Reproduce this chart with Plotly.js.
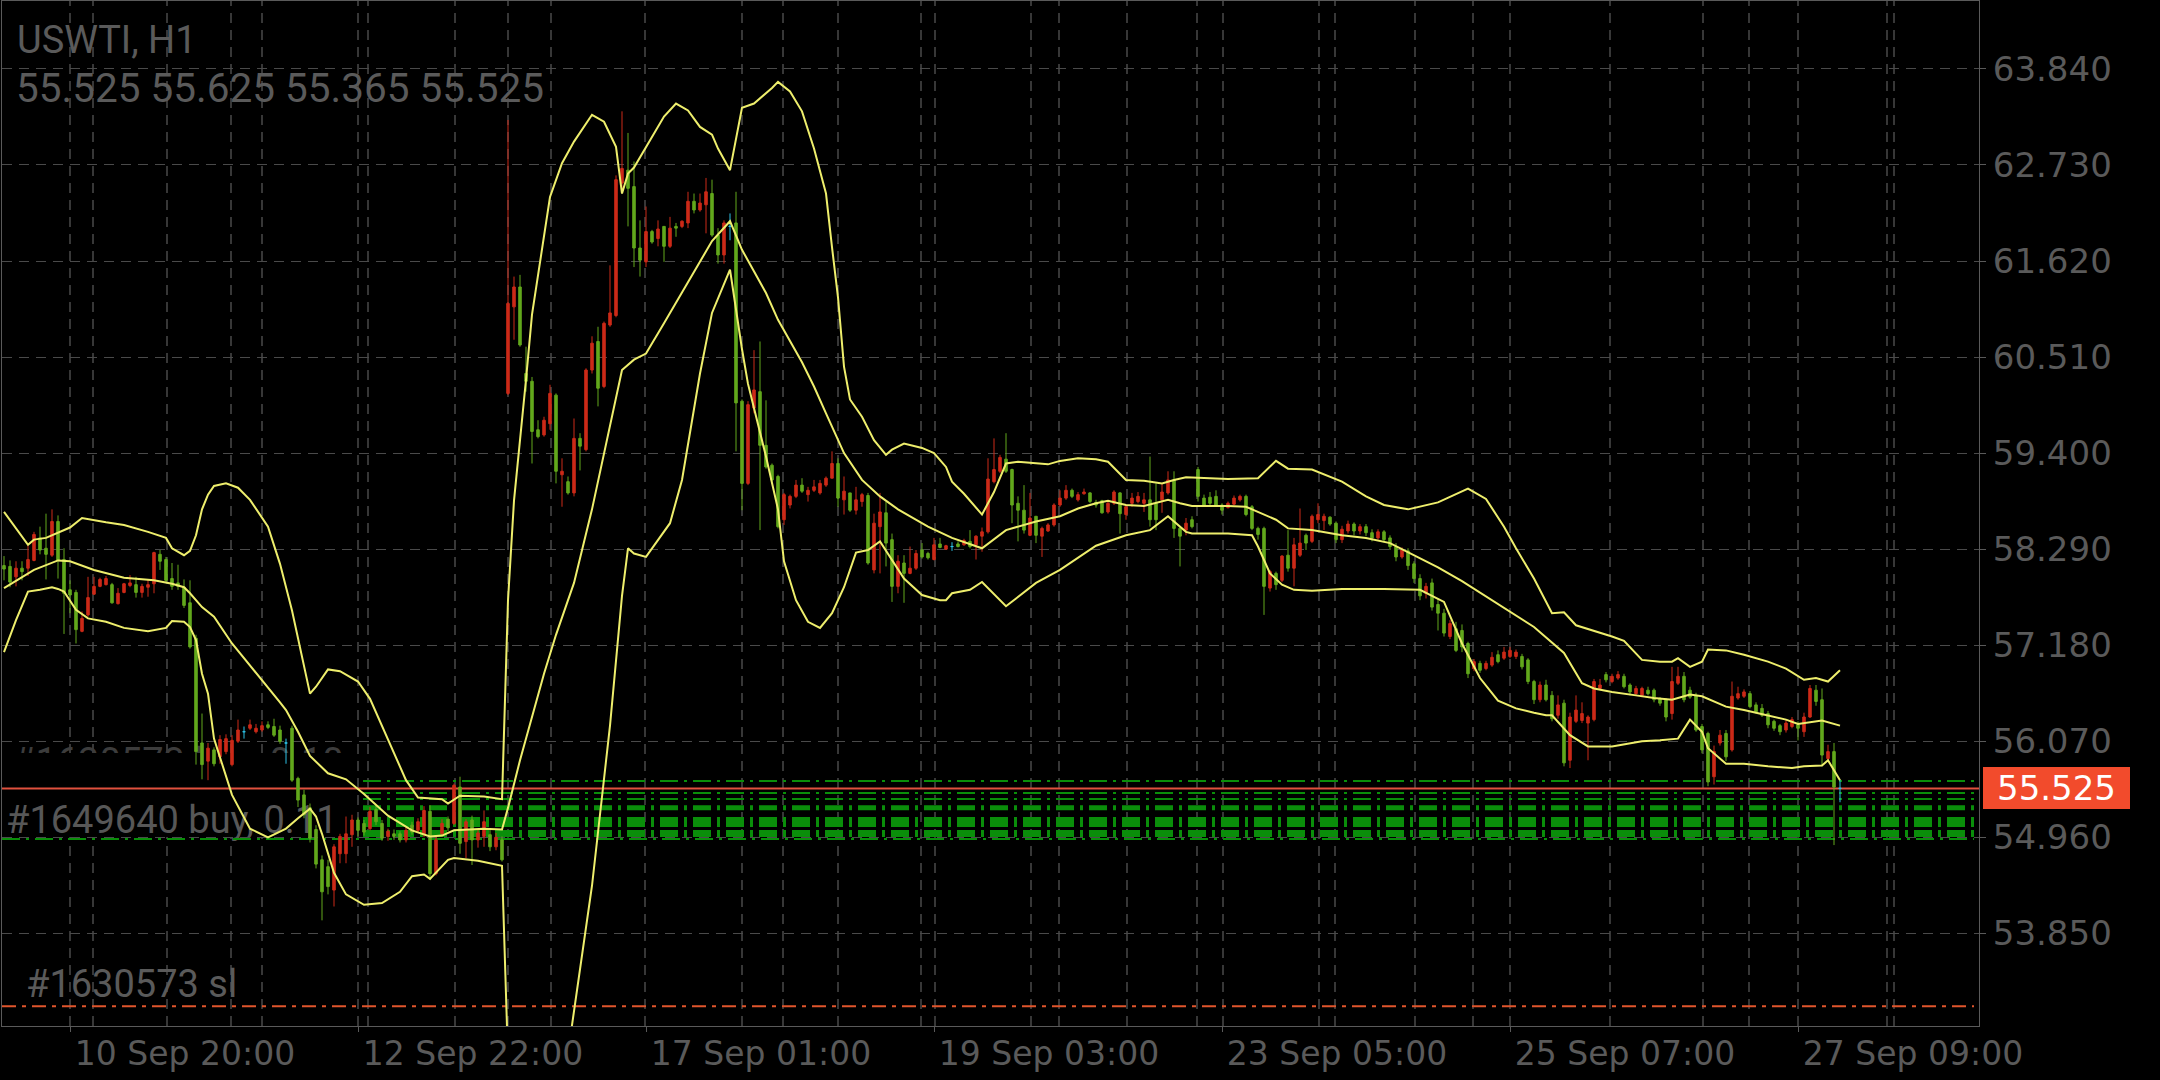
<!DOCTYPE html>
<html><head><meta charset="utf-8">
<script src="https://cdn.plot.ly/plotly-3.0.1.min.js"></script>
<style>html,body{margin:0;padding:0;background:#000;}#chart{width:2160px;height:1080px;}</style>
</head><body><div id="chart"></div>
<script>
// ---------- DATA ----------
const symbol = "USWTI, H1";
const xTickBars = [11, 59, 107, 155, 203, 251, 299];
const xTickText = ["10 Sep 20:00","12 Sep 22:00","17 Sep 01:00","19 Sep 03:00","23 Sep 05:00","25 Sep 07:00","27 Sep 09:00"];
const yTicks = [63.84, 62.73, 61.62, 60.51, 59.40, 58.29, 57.18, 56.07, 54.96, 53.85];

const open = [
58.10,58.09,57.97,58.07,58.07,58.16,58.42,58.30,58.22,58.61,
58.17,57.82,57.79,57.34,57.53,57.77,57.86,57.88,57.88,57.66,
57.79,57.87,57.88,57.79,57.85,57.89,58.23,58.17,57.95,57.90,
57.85,57.67,57.26,56.05,55.84,55.97,55.89,55.95,55.80,56.07,
56.18,56.22,56.18,56.20,56.26,56.24,56.20,56.05,56.22,55.64,
55.45,55.30,55.05,54.70,54.62,54.35,54.77,54.77,54.99,55.16,
55.12,55.06,55.28,55.12,54.97,55.00,55.00,54.93,55.10,55.04,
54.99,55.26,54.54,55.00,55.17,55.12,55.54,54.91,55.16,54.93,
54.97,54.99,54.85,54.93,60.09,61.09,61.32,60.32,60.23,59.67,
59.61,59.74,60.07,59.15,59.07,58.94,59.57,59.44,60.36,60.69,
60.17,60.88,60.99,62.52,62.67,62.48,61.77,61.61,61.96,61.88,
62.02,61.79,62.02,62.02,62.06,62.31,62.21,62.27,62.40,61.92,
61.69,62.02,62.06,60.00,59.05,59.92,60.11,59.49,59.26,59.13,
58.63,58.80,58.90,59.03,58.92,58.97,58.94,59.03,59.11,59.28,
58.86,58.94,58.74,58.84,58.91,58.05,58.55,58.71,58.40,57.86,
58.13,58.01,58.07,58.28,58.24,58.17,58.35,58.29,58.32,58.35,
58.34,58.38,58.34,58.44,58.49,59.07,59.19,59.33,59.21,58.82,
58.74,58.45,58.67,58.44,58.50,58.57,58.80,58.88,58.97,58.86,
58.93,58.94,58.83,58.85,58.72,58.82,58.94,58.69,58.82,58.84,
58.82,58.86,58.82,58.86,58.94,59.09,58.53,58.51,58.63,59.21,
58.88,58.89,58.90,58.80,58.77,58.81,58.86,58.90,58.78,58.53,
58.53,57.84,58.01,57.93,58.22,58.07,58.22,58.45,58.38,58.63,
58.62,58.66,58.59,58.40,58.50,58.58,58.50,58.55,58.48,58.42,
58.49,58.42,58.32,58.20,58.27,58.12,57.95,57.78,57.90,57.65,
57.55,57.28,57.37,57.35,57.20,56.91,56.97,56.91,56.95,57.07,
57.03,57.05,57.05,57.05,57.01,56.76,56.55,56.72,56.60,56.37,
56.51,55.85,56.30,56.31,56.28,56.32,56.68,56.84,56.76,56.80,
56.82,56.72,56.62,56.60,56.66,56.66,56.56,56.55,56.39,56.74,
56.82,56.66,56.60,56.24,56.16,55.66,56.05,56.16,55.97,56.57,
56.59,56.62,56.49,56.45,56.39,56.30,56.25,56.20,56.24,56.26,
56.18,56.35,56.66,56.55,55.87,55.95,55.525];
const high = [
58.21,58.16,58.15,58.15,58.33,58.49,58.55,58.70,58.75,58.68,
58.30,57.93,57.82,57.57,57.97,57.97,57.96,57.98,57.90,57.84,
57.90,57.99,57.97,57.89,57.94,58.26,58.28,58.20,58.13,58.11,
57.94,57.93,57.30,56.39,56.05,56.00,56.14,56.15,56.14,56.32,
56.24,56.32,56.27,56.30,56.30,56.33,56.25,56.10,56.25,55.66,
55.51,55.35,55.10,54.75,54.70,54.88,55.00,55.20,55.22,55.19,
55.16,55.31,55.33,55.16,55.06,55.05,55.03,55.08,55.14,55.18,
55.32,55.33,54.97,55.17,55.20,55.58,55.66,55.17,55.21,55.05,
55.27,55.05,55.01,54.97,63.25,61.44,61.46,60.63,60.28,59.78,
59.82,60.19,60.09,59.34,59.13,59.80,59.63,60.38,60.75,60.86,
60.92,61.57,62.61,63.35,63.10,62.77,62.09,62.25,61.98,62.09,
62.02,62.13,62.06,62.09,62.42,62.40,62.40,62.58,62.56,62.00,
62.09,62.17,62.42,60.02,60.00,60.59,60.69,60.01,59.28,59.15,
58.94,58.92,59.09,59.11,59.01,59.09,59.09,59.13,59.42,59.34,
59.13,58.94,59.01,58.94,58.94,58.70,58.94,58.84,58.47,58.22,
58.22,58.32,58.28,58.36,58.26,58.42,58.42,58.34,58.37,58.38,
58.41,58.51,58.45,58.54,59.34,59.57,59.38,59.63,59.22,58.90,
59.03,58.94,58.67,58.55,58.59,58.82,58.97,59.03,58.99,58.95,
58.99,58.95,58.86,58.86,58.84,58.97,58.95,58.80,58.94,58.95,
58.94,59.36,59.05,59.05,59.19,59.19,58.55,58.65,58.67,59.24,
58.92,58.95,58.97,58.82,58.84,58.91,58.92,58.92,58.80,58.55,
58.55,58.05,58.03,58.22,58.51,58.42,58.76,58.47,58.69,58.82,
58.70,58.67,58.61,58.56,58.62,58.60,58.58,58.58,58.52,58.52,
58.51,58.45,58.36,58.31,58.30,58.15,58.00,57.90,57.95,57.72,
57.60,57.47,57.45,57.42,57.22,57.02,57.00,57.00,57.10,57.12,
57.16,57.16,57.13,57.08,57.03,56.78,56.76,56.78,56.65,56.60,
56.55,56.40,56.60,56.52,56.37,56.79,56.79,56.87,56.85,56.88,
56.85,56.74,56.71,56.70,56.70,56.68,56.58,56.57,56.93,56.93,
56.87,56.70,56.63,56.27,56.18,56.02,56.20,56.20,56.76,56.70,
56.67,56.65,56.52,56.50,56.42,56.32,56.27,56.32,56.35,56.30,
56.40,56.72,56.72,56.68,56.03,56.05,55.625];
const low = [
57.93,57.85,57.86,57.93,57.98,58.15,58.23,57.94,58.20,57.95,
57.31,57.55,57.20,57.33,57.51,57.76,57.85,57.87,57.66,57.65,
57.78,57.85,57.73,57.73,57.74,57.78,58.05,57.90,57.82,57.82,
57.61,57.14,55.80,55.63,55.62,55.78,55.81,55.92,55.78,56.05,
56.10,56.20,56.16,56.18,56.21,56.12,56.04,55.81,55.60,55.31,
55.18,54.90,54.60,54.00,54.30,54.16,54.66,54.66,54.85,54.97,
54.98,55.04,55.10,54.92,54.92,54.93,54.90,54.90,54.99,55.02,
54.96,54.47,54.52,54.97,55.03,55.10,54.77,54.72,54.64,54.84,
54.85,54.80,54.81,54.68,60.07,60.71,60.63,60.11,59.28,59.57,
59.59,59.67,59.05,58.78,58.92,58.90,59.20,59.42,60.32,59.94,
60.15,60.86,60.97,62.44,62.02,61.55,61.44,61.55,61.82,61.79,
61.61,61.77,61.90,62.00,62.00,62.17,62.19,61.94,61.90,61.59,
61.59,61.86,59.42,58.74,59.03,59.86,58.51,59.22,59.07,58.53,
58.57,58.76,58.88,58.94,58.84,58.95,58.92,59.01,59.11,58.78,
58.69,58.72,58.69,58.78,58.11,58.01,58.01,58.09,57.68,57.78,
57.67,58.00,58.05,58.18,58.17,58.16,58.30,58.28,58.27,58.31,
58.33,58.30,58.17,58.26,58.47,59.05,59.17,59.17,58.59,58.38,
58.47,58.44,58.36,58.20,58.49,58.55,58.78,58.86,58.88,58.84,
58.92,58.82,58.77,58.70,58.70,58.80,58.47,58.63,58.78,58.82,
58.72,58.55,58.51,58.71,58.92,58.42,58.09,58.45,58.53,58.84,
58.78,58.80,58.79,58.69,58.76,58.80,58.84,58.67,58.51,58.40,
57.53,57.80,57.82,57.91,58.03,57.86,58.20,58.28,58.36,58.59,
58.51,58.56,58.36,58.36,58.47,58.45,58.46,58.44,58.38,58.40,
58.37,58.28,58.15,58.18,58.05,57.90,57.70,57.72,57.58,57.35,
57.28,57.25,57.10,57.10,56.80,56.88,56.86,56.89,56.93,56.97,
57.01,57.03,57.02,56.90,56.73,56.50,56.52,56.53,56.30,56.33,
55.78,55.76,56.28,56.28,55.85,56.30,56.66,56.75,56.74,56.78,
56.68,56.60,56.60,56.58,56.60,56.52,56.48,56.30,56.32,56.72,
56.52,56.56,56.18,55.93,55.55,55.57,56.02,55.84,55.95,56.55,
56.57,56.45,56.39,56.35,56.22,56.19,56.14,56.17,56.22,56.08,
56.12,56.34,56.48,55.78,55.84,54.87,55.365];
const close = [
58.06,57.91,58.07,58.03,58.17,58.46,58.28,58.23,58.61,58.16,
57.78,57.76,57.36,57.49,57.73,57.86,57.94,57.95,57.67,57.78,
57.89,57.90,57.79,57.86,57.88,58.25,58.15,57.93,57.86,57.86,
57.64,57.16,55.95,55.80,55.99,55.81,56.09,56.10,56.08,56.20,
56.18,56.26,56.22,56.25,56.23,56.14,56.07,56.05,55.62,55.39,
55.22,54.95,54.65,54.33,54.39,54.85,54.97,55.00,55.16,55.04,
55.02,55.26,55.14,54.95,55.03,54.97,54.93,55.04,55.02,55.14,
55.27,54.54,54.93,55.12,55.07,55.56,54.89,55.14,54.93,55.01,
55.14,54.85,54.96,54.70,61.13,61.32,60.65,60.23,59.65,59.59,
59.78,60.09,59.19,59.19,58.94,59.57,59.48,60.36,60.67,60.15,
60.90,61.02,62.56,62.69,62.46,61.77,61.63,61.96,61.84,61.99,
61.79,62.00,62.00,62.08,62.31,62.21,62.29,62.42,61.92,61.69,
62.06,62.02,59.98,59.05,59.96,60.13,59.49,59.24,59.09,58.55,
58.92,58.90,59.03,58.96,58.97,59.01,59.05,59.11,59.28,58.88,
58.96,58.74,58.86,58.92,58.13,58.59,58.72,58.36,57.86,58.15,
58.01,58.07,58.24,58.20,58.19,58.34,58.31,58.33,58.32,58.32,
58.39,58.32,58.44,58.49,59.10,59.21,59.35,59.19,58.80,58.74,
58.51,58.65,58.45,58.53,58.57,58.80,58.88,58.97,58.90,58.92,
58.95,58.84,58.80,58.71,58.82,58.95,58.70,58.78,58.88,58.90,
58.86,58.63,58.63,58.95,59.09,58.53,58.44,58.59,58.55,58.90,
58.80,58.82,58.80,58.74,58.82,58.88,58.90,58.69,58.53,58.46,
57.86,58.03,57.88,58.21,58.07,58.34,58.36,58.36,58.67,58.69,
58.67,58.58,58.40,58.52,58.58,58.50,58.55,58.48,58.42,58.49,
58.40,58.32,58.20,58.28,58.10,57.95,57.75,57.86,57.62,57.55,
57.32,57.43,57.12,57.16,56.85,56.99,56.89,56.97,57.04,56.99,
57.10,57.12,57.10,56.93,56.76,56.55,56.72,56.55,56.33,56.49,
55.82,56.35,56.43,56.39,56.35,56.76,56.72,56.78,56.82,56.84,
56.70,56.64,56.68,56.68,56.62,56.55,56.51,56.35,56.76,56.82,
56.55,56.58,56.20,55.97,55.60,55.95,56.14,55.89,56.59,56.62,
56.64,56.47,56.41,56.37,56.26,56.22,56.18,56.28,56.32,56.22,
56.35,56.68,56.53,55.91,55.95,55.54,55.525];

// Bollinger bands, read at selected bars
const upperX = [0,4,5,7,11,13,17,20,24,27,28,30,31,32,33,34,35,37,39,41,44,46,48,50,51,52,54,56,59,61,64,67,69,73,74,76,80,83,84,85,87,88,91,93,95,98,100,102,103,104,105,107,110,112,114,116,118,119,121,123,125,128,129,131,133,135,137,138,139,140,141,143,145,147,148,150,153,155,157,158,160,163,165,167,169,174,176,179,182,184,187,190,193,195,197,204,209,212,214,218,223,227,230,234,239,244,247,250,252,255,258,260,262,268,270,273,276,278,279,281,283,284,287,290,294,297,300,302,304,306];
const upperY = [58.72,58.34,58.40,58.42,58.54,58.65,58.60,58.57,58.49,58.42,58.30,58.22,58.27,58.45,58.75,58.92,59.02,59.05,59.00,58.86,58.55,58.12,57.58,56.95,56.62,56.70,56.90,56.88,56.76,56.56,56.10,55.62,55.42,55.40,55.35,55.44,55.43,55.40,57.70,58.85,60.25,61.00,62.36,62.75,63.00,63.31,63.23,62.94,62.40,62.63,62.70,62.94,63.29,63.44,63.36,63.17,63.08,62.92,62.67,63.39,63.44,63.62,63.69,63.58,63.35,62.92,62.40,61.78,61.20,60.40,60.02,59.82,59.55,59.38,59.44,59.51,59.46,59.40,59.24,59.07,58.93,58.69,58.95,59.28,59.30,59.27,59.31,59.34,59.33,59.30,59.09,59.08,59.05,59.09,59.12,59.10,59.11,59.31,59.22,59.21,59.07,58.90,58.80,58.75,58.83,58.99,58.87,58.55,58.30,57.95,57.55,57.56,57.41,57.28,57.23,57.01,56.99,56.99,57.03,56.93,56.99,57.13,57.12,57.07,56.99,56.91,56.78,56.80,56.76,56.89];
const midX = [0,3,5,9,11,15,20,25,28,30,31,33,35,38,41,43,46,47,49,51,54,57,60,64,68,71,73,75,80,83,84,86,88,90,92,95,98,100,103,105,107,110,113,115,118,121,123,127,129,133,135,137,140,143,146,149,154,158,163,167,172,176,179,182,184,187,190,194,196,198,204,207,209,212,214,218,223,227,231,235,239,243,248,255,260,263,265,268,272,275,278,281,283,287,290,294,297,299,302,303,306];
const midY = [57.84,57.97,58.05,58.16,58.15,58.05,57.96,57.93,57.89,57.85,57.78,57.62,57.51,57.20,56.95,56.78,56.52,56.43,56.18,55.90,55.70,55.63,55.46,55.21,55.04,54.97,54.98,55.04,55.06,55.05,55.30,55.85,56.35,56.85,57.30,57.90,58.75,59.40,60.36,60.48,60.55,60.90,61.25,61.50,61.85,62.08,61.75,61.25,60.94,60.45,60.17,59.86,59.40,59.09,58.90,58.75,58.55,58.42,58.30,58.51,58.61,58.67,58.76,58.82,58.85,58.80,58.79,58.86,58.82,58.79,58.79,58.78,58.72,58.63,58.53,58.51,58.45,58.42,58.36,58.22,58.08,57.92,57.70,57.39,57.09,56.74,56.68,56.64,56.60,56.57,56.55,56.61,56.59,56.47,56.43,56.37,56.32,56.27,56.30,56.31,56.25];
const lowX = [0,2,4,6,8,9,10,12,14,17,20,24,27,28,30,31,32,33,34,35,38,41,44,47,49,51,52,53,55,57,60,63,66,68,70,71,74,75,79,83,84,88,92,95,98,101,103,104,105,107,111,113,116,118,121,123,124,127,129,130,132,134,136,138,140,142,144,146,148,150,153,156,157,158,161,163,167,172,176,182,187,191,194,197,198,204,208,209,211,213,215,218,223,230,236,240,243,246,249,252,255,257,258,261,264,268,273,276,279,281,283,284,287,290,294,298,300,303,304,306];
const lowY = [57.10,57.47,57.80,57.82,57.85,57.83,57.80,57.59,57.49,57.45,57.38,57.34,57.38,57.46,57.45,57.39,57.24,56.85,56.62,56.10,55.45,55.06,54.96,55.06,55.18,55.29,55.20,55.00,54.55,54.30,54.18,54.20,54.33,54.51,54.53,54.48,54.70,54.72,54.69,54.63,52.40,50.80,51.50,52.95,54.40,56.25,57.75,58.30,58.24,58.20,58.59,59.09,60.32,61.02,61.52,60.60,60.20,59.36,58.75,58.15,57.70,57.45,57.38,57.55,57.85,58.25,58.28,58.38,58.17,57.95,57.76,57.70,57.70,57.78,57.82,57.91,57.63,57.90,58.05,58.33,58.45,58.51,58.67,58.49,58.47,58.47,58.45,58.32,58.01,57.88,57.82,57.81,57.83,57.83,57.82,57.68,57.20,56.80,56.54,56.45,56.40,56.37,56.37,56.14,56.01,56.01,56.07,56.08,56.10,56.32,56.18,55.99,55.81,55.81,55.78,55.76,55.78,55.79,55.85,55.62];

// Order lines (pending buy levels), the open buy order and its stop loss
const buyLevels = [55.611, 55.472, 55.402, 55.300, 55.137, 55.004];
const buyOrderPrice = 54.94;     // #1649640 buy, 0.11
const slPrice = 53.006;          // #1630573 sl
const buyLabel = "#1649640 buy, 0.11";
const buyLabel2 = "#1630573 buy, 0.10";
const slLabel = "#1630573 sl";

// ---------- LAYOUT / STYLE CONSTANTS ----------
const buyLineWidths = [2, 2, 2, 5, 10, 7];
const PL = 2, PR = 1979, PT = 1, PB = 1026;
const barPx = 6, bar0Px = 4;
const xRange = [(PL - bar0Px) / barPx, (PR - bar0Px) / barPx];
const yRange = [52.779, 64.625];
const px2x = px => (px - PL) / (PR - PL);
const px2y = py => 1 - (py - PT) / (PB - PT);
const vGridPx = [70,93,167,231,262,358,368,455,508,551,645,742,783,838,921,935,1031,1059,1127,1197,1223,1319,1335,1415,1473,1510,1610,1703,1749,1798,1887,1894];

const RED = '#cc2a18', GREEN = '#62a81c', CYAN = '#2cc0e4', YEL = '#eeee6c';
const GRID = '#4a4a4a', TXT = '#5a5a5a', OGREEN = '#0a8e0a';
const DASHDOT = '18px,6px,3px,6px';

const n = close.length;
const last = n - 1;
const lastPrice = close[last];
const idx = close.map((_, i) => i);
const dojiIdx = idx.filter(i => open[i] === close[i]);
const normIdx = idx.filter(i => open[i] !== close[i]);
const pick = (a, ids) => ids.map(i => a[i]);

const traces = [
  {type:'candlestick', x: normIdx, open: pick(open, normIdx), high: pick(high, normIdx), low: pick(low, normIdx), close: pick(close, normIdx),
   increasing:{line:{color:RED, width:1}, fillcolor:RED}, decreasing:{line:{color:GREEN, width:1}, fillcolor:GREEN},
   whiskerwidth:0, hoverinfo:'skip', showlegend:false},
  {type:'candlestick', x: dojiIdx, open: pick(open, dojiIdx), high: pick(high, dojiIdx), low: pick(low, dojiIdx), close: pick(close, dojiIdx),
   increasing:{line:{color:CYAN, width:1}, fillcolor:CYAN}, decreasing:{line:{color:CYAN, width:1}, fillcolor:CYAN},
   whiskerwidth:0, hoverinfo:'skip', showlegend:false},
  {type:'scatter', mode:'lines', x: upperX, y: upperY, line:{color:YEL, width:2}, hoverinfo:'skip', showlegend:false},
  {type:'scatter', mode:'lines', x: midX, y: midY, line:{color:YEL, width:2}, hoverinfo:'skip', showlegend:false},
  {type:'scatter', mode:'lines', x: lowX, y: lowY, line:{color:YEL, width:2}, hoverinfo:'skip', showlegend:false}
];

const shapes = [];
shapes.push({type:'rect', layer:'between', xref:'paper', yref:'paper', x0:0, x1:px2x(549), y0:px2y(106), y1:px2y(58), fillcolor:'#000', line:{width:0}});
vGridPx.forEach(p => shapes.push({type:'line', layer:'between', xref:'paper', yref:'paper', x0:px2x(p), x1:px2x(p), y0:0, y1:1, line:{color:GRID, width:1.5, dash:'10px,7px'}}));
shapes.push({type:'rect', layer:'between', xref:'paper', yref:'paper', x0:0, x1:0.3, y0:px2y(779), y1:px2y(739), fillcolor:'rgba(0,0,0,0)', line:{width:0},
  label:{text:buyLabel2, textposition:'middle left', padding:7, font:{family:'Roboto', size:38, color:'#3c3c3c'}}});
shapes.push({type:'rect', layer:'between', xref:'paper', yref:'paper', x0:0, x1:px2x(350), y0:px2y(837), y1:px2y(753), fillcolor:'#000', line:{width:0}});
shapes.push({type:'rect', layer:'between', xref:'paper', yref:'paper', x0:0, x1:0.3, y0:px2y(837), y1:px2y(797), fillcolor:'rgba(0,0,0,0)', line:{width:0},
  label:{text:buyLabel, textposition:'middle left', padding:1, font:{family:'Roboto', size:38, color:'#575757'}}});
buyLevels.forEach((v, k) => shapes.push({type:'line', layer:'between', xref:'paper', yref:'y', x0:px2x(363), x1:px2x(1974), y0:v, y1:v,
  line:{color:OGREEN, width:buyLineWidths[k], dash:DASHDOT}}));
shapes.push({type:'line', layer:'between', xref:'paper', yref:'y', x0:0, x1:px2x(1974), y0:buyOrderPrice, y1:buyOrderPrice, line:{color:OGREEN, width:2, dash:DASHDOT}});
shapes.push({type:'line', layer:'between', xref:'paper', yref:'y', x0:0, x1:1, y0:lastPrice, y1:lastPrice, line:{color:'#e0513e', width:2}});
shapes.push({type:'line', layer:'between', xref:'paper', yref:'y', x0:0, x1:px2x(1974), y0:slPrice, y1:slPrice, line:{color:'#e0552c', width:2, dash:'14px,6px,4px,6px'}});

const f3 = v => v.toFixed(3);
const annotations = [
  {xref:'paper', yref:'paper', x:px2x(15), y:px2y(40), xanchor:'left', yanchor:'middle', showarrow:false, text:symbol, font:{family:'Roboto', size:38, color:TXT}},
  {xref:'paper', yref:'paper', x:px2x(14), y:px2y(88), xanchor:'left', yanchor:'middle', showarrow:false,
   text:[open[last], high[last], low[last], close[last]].map(f3).join(' '), font:{family:'Roboto', size:40.5, color:TXT}},
  {xref:'paper', yref:'paper', x:px2x(24), y:px2y(984), xanchor:'left', yanchor:'middle', showarrow:false, text:slLabel, font:{family:'Roboto', size:38, color:TXT}},
  {xref:'paper', yref:'y', x:1, xshift:4, y:lastPrice, xanchor:'left', yanchor:'middle', showarrow:false, text:f3(lastPrice),
   font:{family:'DejaVu Sans', size:34, color:'#ffffff'}, bgcolor:'#f24b2c', borderwidth:0, borderpad:2, width:143, height:38, align:'center'}
];

const layout = {
  width:2160, height:1080,
  paper_bgcolor:'#000', plot_bgcolor:'#000',
  margin:{l:PL, r:2160 - PR, t:PT, b:1080 - PB},
  showlegend:false, hovermode:false, boxgap:0.4,
  xaxis:{range:xRange, rangeslider:{visible:false}, showgrid:false, zeroline:false,
    showline:true, mirror:true, linecolor:'#5a5a5a', linewidth:1,
    ticks:'outside', ticklen:5, tickcolor:'#5a5a5a', tickvals:xTickBars, ticktext:xTickText,
    tickfont:{family:'DejaVu Sans', size:33, color:TXT}, ticklabelshift:115, ticklabelstandoff:-7, fixedrange:true},
  yaxis:{range:yRange, side:'right', showgrid:true, gridcolor:GRID, gridwidth:1, griddash:'10px,7px', zeroline:false,
    showline:true, mirror:true, linecolor:'#5a5a5a', linewidth:1,
    ticks:'outside', ticklen:6, tickcolor:'#5a5a5a', tickvals:yTicks, ticktext:yTicks.map(f3),
    tickfont:{family:'DejaVu Sans', size:34, color:TXT}, fixedrange:true},
  shapes, annotations
};

Plotly.newPlot('chart', traces, layout, {staticPlot:true, displayModeBar:false});
</script></body></html>
